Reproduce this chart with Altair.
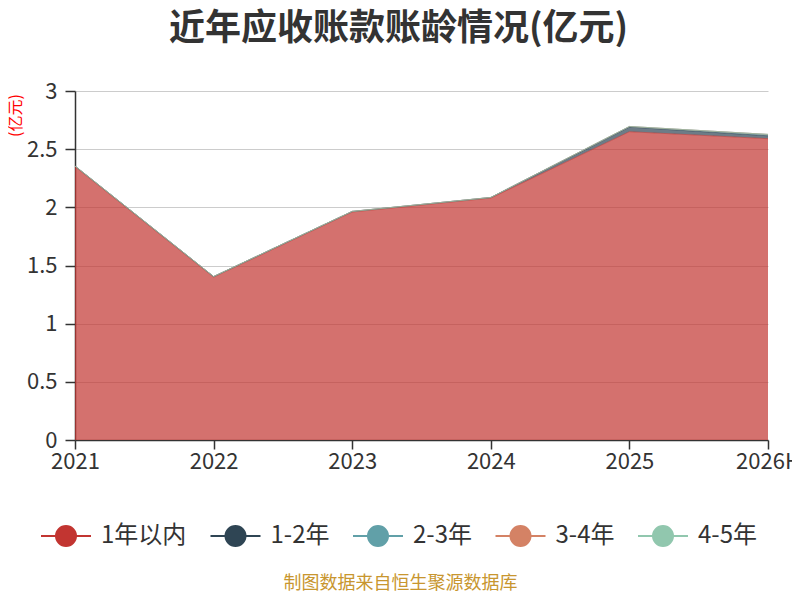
import altair as alt
import pandas as pd

years = ["2021", "2022", "2023", "2024", "2025", "2026H"]
series = ["1年以内", "1-2年", "2-3年", "3-4年", "4-5年"]
v_1y = [2.35, 1.40, 1.96, 2.08, 2.65, 2.59]
v_1_2 = [0.005, 0.005, 0.005, 0.005, 0.04, 0.025]
v_2_3 = [0.0, 0.0, 0.0, 0.0, 0.005, 0.012]
v_3_4 = [0.0, 0.0, 0.0, 0.0, 0.0, 0.0]
v_4_5 = [0.0, 0.0, 0.0, 0.0, 0.0, 0.0]
colors = ["#c23531", "#2f4554", "#61a0a8", "#d48265", "#91c7ae"]
y_ticks = [0, 0.5, 1, 1.5, 2, 2.5, 3]

rows = []
for si, (name, vals) in enumerate(zip(series, [v_1y, v_1_2, v_2_3, v_3_4, v_4_5])):
    for yr, v in zip(years, vals):
        rows.append({"year": yr, "series": name, "value": v, "sidx": si})
df = pd.DataFrame(rows)

FONT = "Noto Sans CJK SC"
legend_path = "M-1,0L1,0M0.4,0A0.4,0.4,0,1,1,-0.4,0A0.4,0.4,0,1,1,0.4,0Z"

x_enc = alt.X(
    "year:N",
    sort=years,
    scale=alt.Scale(type="point", padding=0),
    axis=alt.Axis(
        title="制图数据来自恒生聚源数据库",
        titleFont=FONT,
        titleFontSize=18,
        titleFontWeight="normal",
        titleColor="#c8962f",
        titleX=325,
        titleY=143,
        titleAlign="center",
        titleBaseline="middle",
        labelAngle=0,
        labelFont=FONT,
        labelFontSize=22,
        labelColor="#333333",
        labelPadding=2,
        domainColor="#333333",
        domainWidth=1.5,
        tickColor="#333333",
        tickSize=9,
        tickWidth=1.5,
        grid=False,
    ),
)

y_axis = alt.Axis(
    values=y_ticks,
    format="~g",
    title="(亿元)",
    titleFont=FONT,
    titleFontSize=16,
    titleFontWeight="normal",
    titleColor="#ff0000",
    titleX=-60,
    titleY=24,
    titleAngle=270,
    titleAlign="center",
    titleBaseline="middle",
    labelFont=FONT,
    labelFontSize=22,
    labelColor="#333333",
    labelPadding=8,
    domainColor="#333333",
    domainWidth=1.5,
    tickColor="#333333",
    tickSize=10,
    tickWidth=1.5,
    gridColor="#cccccc",
    gridWidth=1,
)

color_scale = alt.Scale(domain=series, range=colors)

base = alt.Chart(df).transform_stack(
    stack="value",
    groupby=["year"],
    as_=["v0", "v1"],
    sort=[alt.SortField("sidx", order="ascending")],
)

area = base.mark_area(opacity=0.7).encode(
    x=x_enc,
    y=alt.Y("v1:Q", scale=alt.Scale(domain=[0, 3]), axis=y_axis),
    y2="v0:Q",
    color=alt.Color(
        "series:N",
        sort=series,
        scale=color_scale,
        legend=alt.Legend(
            title=None,
            orient="none",
            direction="horizontal",
            legendX=-35,
            legendY=419,
            symbolType=legend_path,
            symbolSize=2500,
            symbolStrokeWidth=2,
            symbolOpacity=1,
            labelFont=FONT,
            labelFontSize=24,
            labelColor="#333333",
            labelOffset=9,
            columnPadding=19.5,
        ),
    ),
    order=alt.Order("sidx:Q"),
)

line = base.mark_line(strokeWidth=1, opacity=0.6).encode(
    x=x_enc,
    y=alt.Y("v1:Q"),
    color=alt.Color("series:N", sort=series, scale=color_scale, legend=None),
    detail="series:N",
)

chart = (
    alt.layer(area, line)
    .properties(
        width=693,
        height=349,
        autosize=alt.AutoSizeParams(type="none"),
        padding={"left": 67, "top": 83, "right": 24, "bottom": 152},
        title=alt.TitleParams(
            "近年应收账款账龄情况(亿元)",
            font=FONT,
            fontSize=36,
            fontWeight="bold",
            color="#333333",
            anchor="middle",
            frame="group",
            dx=-23,
            offset=32,
        ),
    )
    .configure_view(stroke=None)
)

chart.save("out.html", embed_options={"renderer": "svg", "actions": False})
